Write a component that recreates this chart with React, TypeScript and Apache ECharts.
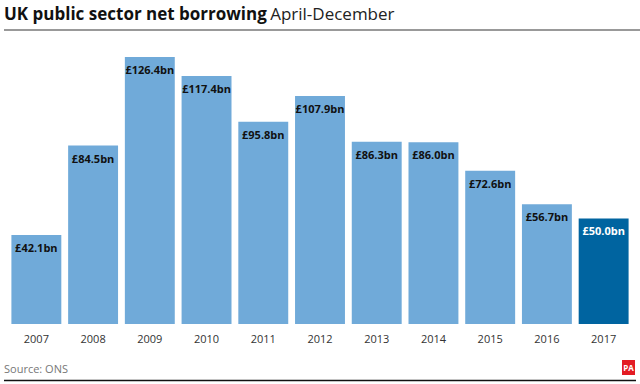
import React, { useEffect, useRef } from "react";
import * as echarts from "echarts";

const years = ["2007", "2008", "2009", "2010", "2011", "2012", "2013", "2014", "2015", "2016", "2017"];
const borrowing = [42.1, 84.5, 126.4, 117.4, 95.8, 107.9, 86.3, 86.0, 72.6, 56.7, 50.0];
const highlightYear = "2017";

const FONT = "'Open Sans', 'Noto Sans', sans-serif";

export default function App() {
  const ref = useRef<HTMLDivElement>(null);
  useEffect(() => {
    if (!ref.current) return;
    const chart = echarts.init(ref.current, null, { renderer: "svg" });
    const light = "#70aad9";
    const dark = "#0064a0";
    chart.setOption({
      animation: false,
      backgroundColor: "#ffffff",
      textStyle: { fontFamily: FONT },
      grid: { left: 8, right: 8, top: 57, bottom: 60, containLabel: false },
      xAxis: {
        type: "category",
        data: years,
        axisLine: { show: false },
        axisTick: { show: false },
        axisLabel: { color: "#333333", fontSize: 11, margin: 9, fontFamily: FONT },
      },
      yAxis: {
        type: "value",
        min: 0,
        max: 126.4,
        show: false,
        splitLine: { show: false },
      },
      series: [
        {
          type: "bar",
          barCategoryGap: "12%",
          data: borrowing.map((v, i) => ({
            value: v,
            itemStyle: { color: years[i] === highlightYear ? dark : light },
            label: { color: years[i] === highlightYear ? "#ffffff" : "#111111" },
          })),
          label: {
            show: true,
            position: "insideTop",
            distance: 7,
            fontSize: 11,
            fontWeight: "bold",
            fontFamily: FONT,
            formatter: (p: any) => "£" + Number(p.value).toFixed(1) + "bn",
          },
        },
      ],
      graphic: [
        {
          type: "text",
          left: 4,
          top: 5,
          style: {
            text: "{b|UK public sector net borrowing} {r|April-December}",
            rich: {
              b: { fontSize: 17, fontWeight: "bold", fill: "#111111", fontFamily: FONT },
              r: { fontSize: 17, fontWeight: "normal", fill: "#222222", fontFamily: FONT },
            },
          },
        },
        {
          type: "line",
          shape: { x1: 4, y1: 30, x2: 640, y2: 30 },
          style: { stroke: "#777777", lineWidth: 1.5 },
        },
        {
          type: "text",
          left: 4,
          top: 363,
          style: { text: "Source: ONS", fontSize: 11, fill: "#777777", fontFamily: FONT },
        },
        {
          type: "rect",
          shape: { x: 622, y: 360, width: 13, height: 15 },
          style: { fill: "#e31b23" },
        },
        {
          type: "text",
          x: 628.5,
          y: 367.5,
          style: {
            text: "PA",
            fontSize: 8,
            fontWeight: "bold",
            fill: "#ffffff",
            align: "center",
            verticalAlign: "middle",
            fontFamily: FONT,
          },
        },
        {
          type: "line",
          shape: { x1: 4, y1: 380.5, x2: 636, y2: 380.5 },
          style: { stroke: "#111111", lineWidth: 1.5 },
        },
      ],
    });
    return () => chart.dispose();
  }, []);
  return <div ref={ref} style={{ width: 640, height: 384, position: "absolute", left: 0, top: 0 }} />;
}
